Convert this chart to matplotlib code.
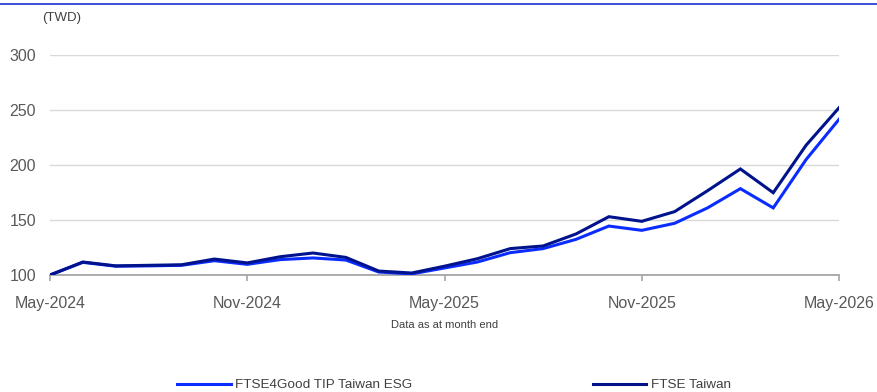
import matplotlib
matplotlib.use("Agg")
import matplotlib.pyplot as plt
from matplotlib.lines import Line2D
import numpy as np

plt.rcParams['font.family'] = ['Liberation Sans', 'DejaVu Sans']

months = ["May-2024", "Jun-2024", "Jul-2024", "Aug-2024", "Sep-2024", "Oct-2024",
          "Nov-2024", "Dec-2024", "Jan-2025", "Feb-2025", "Mar-2025", "Apr-2025",
          "May-2025", "Jun-2025", "Jul-2025", "Aug-2025", "Sep-2025", "Oct-2025",
          "Nov-2025", "Dec-2025", "Jan-2026", "Feb-2026", "Mar-2026", "Apr-2026",
          "May-2026"]
esg = [100, 111.5, 108, 108.3, 108.8, 113, 109.7, 114, 115.5, 113.6, 102.7, 101,
       106.4, 111.8, 120.3, 124, 132.4, 144.5, 140.6, 147, 161, 178.5, 161, 205, 241.5]
ftse = [100, 111.8, 108.3, 108.8, 109.3, 114.5, 111, 116.6, 120, 116, 103.6, 101.8,
        108, 114.8, 124, 126.4, 137.3, 153, 148.8, 157.6, 176.6, 196.4, 174.8, 218, 252]
series_names = ["FTSE4Good TIP Taiwan ESG", "FTSE Taiwan"]
yticks = [100, 150, 200, 250, 300]
xtick_idx = [0, 6, 12, 18, 24]

W, H = 877, 392
fig = plt.figure(figsize=(W / 100, H / 100), dpi=100)
ax = fig.add_axes([50 / W, 1 - 275 / H, (839 - 50) / W, (275 - 55) / H])

x = np.arange(len(months))
l1, = ax.plot(x, esg, color="#0a2cff", lw=2.2, solid_joinstyle="miter", zorder=3)
l2, = ax.plot(x, ftse, color="#00128c", lw=2.2, solid_joinstyle="miter", zorder=4)

ax.set_xlim(0, len(months) - 1)
ax.set_ylim(100, 300)
ax.set_yticks(yticks)
ax.set_yticklabels([str(v) for v in yticks])
ax.set_xticks(xtick_idx)
ax.set_xticklabels([months[i] for i in xtick_idx])

for v in yticks[1:]:
    ax.axhline(v, color="#d9d9d9", lw=1.0, zorder=1)

for s in ["top", "right", "left"]:
    ax.spines[s].set_visible(False)
ax.spines["bottom"].set_color("#a6a6a6")
ax.spines["bottom"].set_linewidth(1.3)
ax.spines["bottom"].set_zorder(2)
ax.tick_params(axis="y", length=0, pad=10, labelsize=11.5, labelcolor="#595959")
ax.tick_params(axis="x", length=4.5, width=1.2, color="#a6a6a6", direction="out",
               pad=10.5, labelsize=11.5, labelcolor="#595959")
ax.set_facecolor("none")

fig.text(42 / W, 1 - 18 / H, "(TWD)", fontsize=9.5, color="#404040",
         ha="left", va="center")
fig.text(445 / W, 1 - 325.5 / H, "Data as at month end", fontsize=8, color="#404040",
         ha="center", va="center")

fig.add_artist(Line2D([0, 1], [1 - 3.5 / H, 1 - 3.5 / H], transform=fig.transFigure,
                      color="#1a2fd0", lw=1.2))

leg = fig.legend([l1, l2], series_names, loc="center left",
                 bbox_to_anchor=(177 / W, 1 - 385 / H), ncol=2, frameon=False,
                 borderpad=0, borderaxespad=0, handlelength=4.0, handletextpad=0.3,
                 columnspacing=13.4, fontsize=9.7)
for t in leg.get_texts():
    t.set_color("#404040")

fig.savefig("out.png", dpi=100)
